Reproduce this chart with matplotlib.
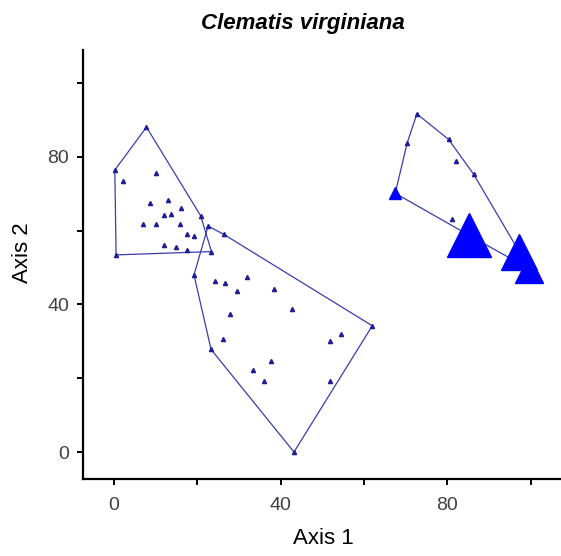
import matplotlib
matplotlib.use("Agg")
import matplotlib.pyplot as plt
from matplotlib.ticker import FixedLocator, FuncFormatter


# Ordination scores for the three site groups (axis 1, axis 2)

grp1_x = [0.2, 7.8, 20.8, 23.4, 0.5, 17.5, 2.2, 10.2, 8.6, 12.9, 16.2, 12.0, 13.8, 7.0, 10.2, 15.8, 17.6, 19.2, 12.0, 14.8]
grp1_y = [76.4, 88.0, 64.0, 54.3, 53.4, 54.6, 73.3, 75.5, 67.4, 68.3, 66.1, 64.1, 64.5, 61.8, 61.8, 61.8, 59.1, 58.5, 56.1, 55.5]

grp2_x = [22.6, 26.3, 62.0, 43.2, 23.3, 19.2, 24.2, 26.6, 32.0, 29.6, 38.5, 42.7, 27.9, 26.2, 54.5, 51.9, 37.6, 33.4, 36.1, 51.9]
grp2_y = [61.2, 59.0, 34.2, 0.0, 27.8, 48.0, 46.2, 45.7, 47.3, 43.5, 44.1, 38.8, 37.3, 30.6, 31.9, 30.1, 24.7, 22.2, 19.2, 19.2]

grp3_x = [67.5, 70.4, 72.7, 80.3, 86.3, 82.1, 81.1, 85.1, 97.1, 99.7]
grp3_y = [70.1, 83.8, 91.6, 84.7, 75.3, 78.7, 63.1, 58.8, 54.3, 49.6]

# Clematis virginiana cover in the right group (0 = absent)
grp3_cover = [2, 0, 0, 0, 0, 0, 0, 10, 8, 6]

x_ticks = [0, 20, 40, 60, 80, 100]
y_ticks = [0, 20, 40, 60, 80, 100]
labelled = [0, 40, 80]

LINE = "#3c3cae"
DOT = "#1e1e96"
BIG = "#0000ff"


# Convex hull (monotone chain), returns closed list of vertices
def convex_hull(xs, ys):
    pts = sorted(set(zip(xs, ys)))

    def cross(o, a, b):
        return (a[0] - o[0]) * (b[1] - o[1]) - (a[1] - o[1]) * (b[0] - o[0])

    lower = []
    for p in pts:
        while len(lower) >= 2 and cross(lower[-2], lower[-1], p) <= 0:
            lower.pop()
        lower.append(p)
    upper = []
    for p in reversed(pts):
        while len(upper) >= 2 and cross(upper[-2], upper[-1], p) <= 0:
            upper.pop()
        upper.append(p)
    hull = lower[:-1] + upper[:-1]
    hull.append(hull[0])
    return [p[0] for p in hull], [p[1] for p in hull]


def draw_group(ax, xs, ys):
    hx, hy = convex_hull(xs, ys)
    ax.plot(hx, hy, color=LINE, lw=0.9, zorder=2)
    ax.plot(xs, ys, ls="none", marker="^", ms=3, color=DOT, zorder=3)


def main():
    plt.rcParams["font.family"] = ["Liberation Sans", "DejaVu Sans"]

    fig = plt.figure(figsize=(5.61, 5.56), dpi=100)
    ax = fig.add_axes([83 / 561, 77 / 556, 478 / 561, 429 / 556])

    draw_group(ax, grp1_x, grp1_y)
    draw_group(ax, grp2_x, grp2_y)
    draw_group(ax, grp3_x, grp3_y)

    # species cover drawn as filled triangles scaled by cover
    for x, y, c in zip(grp3_x, grp3_y, grp3_cover):
        if c > 0:
            ax.plot(x, y, ls="none", marker="^", ms=3 + 2.8 * c, color=BIG, mec=BIG, zorder=4)

    ax.set_xlim(-7.44, 107.3)
    ax.set_ylim(-7.3, 108.9)

    for side in ["top", "right"]:
        ax.spines[side].set_visible(False)
    for side in ["left", "bottom"]:
        ax.spines[side].set_linewidth(1.6)

    fmt = FuncFormatter(lambda v, p: "%d" % v if int(v) in labelled else "")
    ax.xaxis.set_major_locator(FixedLocator(x_ticks))
    ax.yaxis.set_major_locator(FixedLocator(y_ticks))
    ax.xaxis.set_major_formatter(fmt)
    ax.yaxis.set_major_formatter(fmt)
    ax.tick_params(direction="out", length=4, width=1.4, labelsize=14, labelcolor="#404040")
    ax.tick_params(axis="x", pad=9)
    ax.tick_params(axis="y", pad=6)

    fig.text(303 / 561, 1 - 24 / 556, "Clematis virginiana", ha="center", va="center",
             fontsize=16, fontweight="bold", fontstyle="italic")
    fig.text(323 / 561, 1 - 538 / 556, "Axis 1", ha="center", va="center", fontsize=16)
    fig.text(22 / 561, 1 - 253 / 556, "Axis 2", ha="center", va="center", fontsize=16, rotation=90)

    fig.savefig("out.png", dpi=100)


if __name__ == "__main__":
    main()
